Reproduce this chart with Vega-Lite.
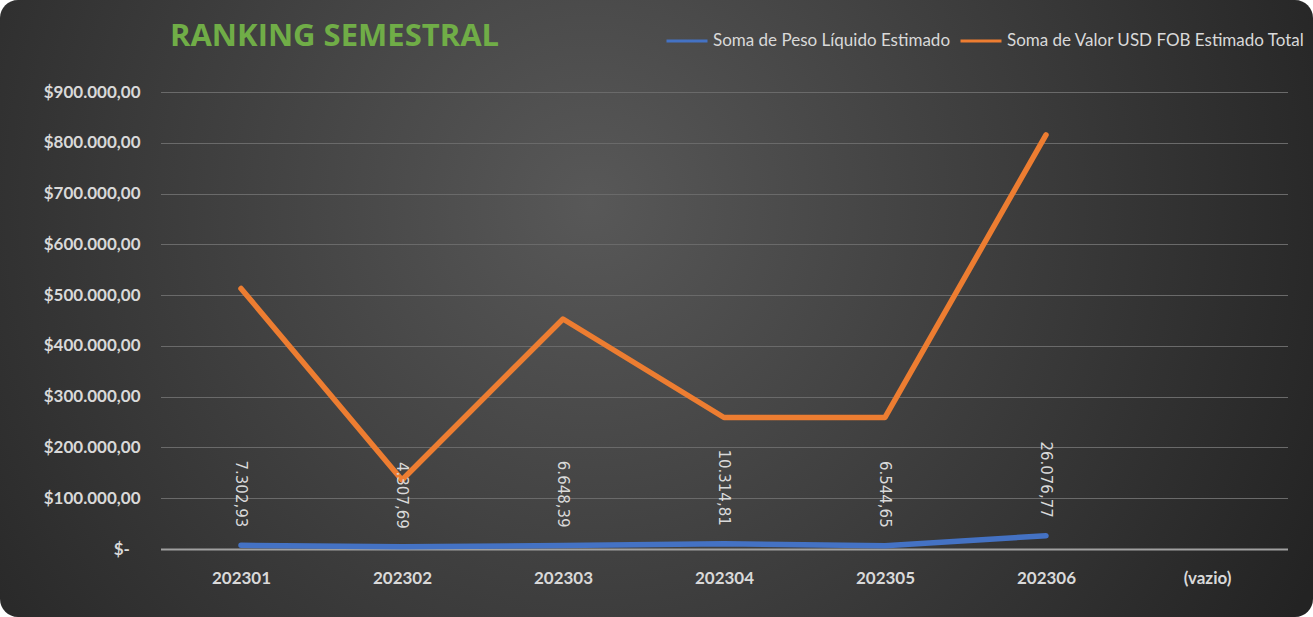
{
  "$schema": "https://vega.github.io/schema/vega-lite/v6.json",
  "width": 1313,
  "height": 617,
  "padding": 0,
  "autosize": {"type": "none"},
  "background": "white",
  "config": {
    "view": {
      "stroke": null,
      "cornerRadius": 18,
      "fill": {
        "gradient": "radial",
        "x1": 0.45, "y1": 0.42, "r1": 0,
        "x2": 0.45, "y2": 0.42, "r2": 0.62,
        "stops": [
          {"offset": 0, "color": "#585858"},
          {"offset": 1, "color": "#232323"}
        ]
      }
    },
    "locale": {
      "number": {"decimal": ",", "thousands": ".", "grouping": [3], "currency": ["$", ""]}
    },
    "font": "Lato"
  },
  "title": {
    "text": "RANKING SEMESTRAL",
    "anchor": "start",
    "frame": "group",
    "orient": "top",
    "font": "Open Sans",
    "fontSize": 31,
    "fontWeight": "bold",
    "color": "#70ad47",
    "limit": 0,
    "dx": 170,
    "dy": 57
  },
  "data": {
    "values": [
      {"periodo": "202301", "serie": "Soma de Peso Líquido Estimado", "valor": 7302.93},
      {"periodo": "202302", "serie": "Soma de Peso Líquido Estimado", "valor": 4307.69},
      {"periodo": "202303", "serie": "Soma de Peso Líquido Estimado", "valor": 6648.39},
      {"periodo": "202304", "serie": "Soma de Peso Líquido Estimado", "valor": 10314.81},
      {"periodo": "202305", "serie": "Soma de Peso Líquido Estimado", "valor": 6544.65},
      {"periodo": "202306", "serie": "Soma de Peso Líquido Estimado", "valor": 26076.77},
      {"periodo": "202301", "serie": "Soma de Valor USD FOB Estimado Total", "valor": 513000},
      {"periodo": "202302", "serie": "Soma de Valor USD FOB Estimado Total", "valor": 136000},
      {"periodo": "202303", "serie": "Soma de Valor USD FOB Estimado Total", "valor": 453000},
      {"periodo": "202304", "serie": "Soma de Valor USD FOB Estimado Total", "valor": 259000},
      {"periodo": "202305", "serie": "Soma de Valor USD FOB Estimado Total", "valor": 259000},
      {"periodo": "202306", "serie": "Soma de Valor USD FOB Estimado Total", "valor": 815500}
    ]
  },
  "encoding": {
    "x": {
      "field": "periodo",
      "type": "nominal",
      "sort": null,
      "title": null,
      "scale": {
        "type": "point",
        "domain": ["202301", "202302", "202303", "202304", "202305", "202306", "(vazio)"],
        "range": [160.5, 1287.5],
        "padding": 0.5
      },
      "axis": {
        "orient": "bottom",
        "offset": -68,
        "labelAngle": 0,
        "ticks": false,
        "grid": false,
        "domainColor": "#a0a0a0",
        "domainWidth": 2,
        "labelColor": "#d9d9d9",
        "labelFont": "Lato",
        "labelFontSize": 17,
        "labelFontWeight": "bold",
        "labelPadding": 21
      }
    },
    "y": {
      "field": "valor",
      "type": "quantitative",
      "title": null,
      "scale": {"domain": [0, 900000], "range": [549, 92], "nice": false, "zero": true},
      "axis": {
        "orient": "left",
        "offset": -160,
        "values": [0, 100000, 200000, 300000, 400000, 500000, 600000, 700000, 800000, 900000],
        "format": ",.2f",
        "labelExpr": "datum.value == 0 ? '$-\u2002\u2009\u200b' : '$' + datum.label",
        "domain": false,
        "ticks": false,
        "grid": true,
        "gridColor": "#6a6a6a",
        "gridWidth": 1,
        "labelColor": "#d9d9d9",
        "labelFont": "Lato",
        "labelFontSize": 17,
        "labelFontWeight": "bold",
        "labelPadding": 20
      }
    }
  },
  "layer": [
    {
      "mark": {"type": "line", "strokeWidth": 5.5, "strokeCap": "round", "strokeJoin": "round"},
      "encoding": {
        "color": {
          "field": "serie",
          "type": "nominal",
          "title": null,
          "scale": {
            "domain": ["Soma de Peso Líquido Estimado", "Soma de Valor USD FOB Estimado Total"],
            "range": ["#4472c4", "#ed7d31"]
          },
          "legend": {
            "orient": "none",
            "legendX": 665,
            "legendY": 19,
            "direction": "horizontal",
            "symbolType": "stroke",
            "symbolSize": 1681,
            "symbolStrokeWidth": 3,
            "labelColor": "#d9d9d9",
            "labelFont": "Lato",
            "labelFontSize": 17,
            "labelOffset": 4,
            "labelLimit": 400,
            "columnPadding": 3
          }
        }
      }
    },
    {
      "transform": [{"filter": "datum.serie == 'Soma de Peso Líquido Estimado'"}],
      "mark": {
        "type": "text",
        "angle": 90,
        "align": "right",
        "baseline": "middle",
        "dx": -18,
        "font": "DejaVu Sans",
        "fontSize": 15,
        "color": "#d9d9d9"
      },
      "encoding": {
        "text": {"field": "valor", "type": "quantitative", "format": ",.2f"}
      }
    }
  ]
}
